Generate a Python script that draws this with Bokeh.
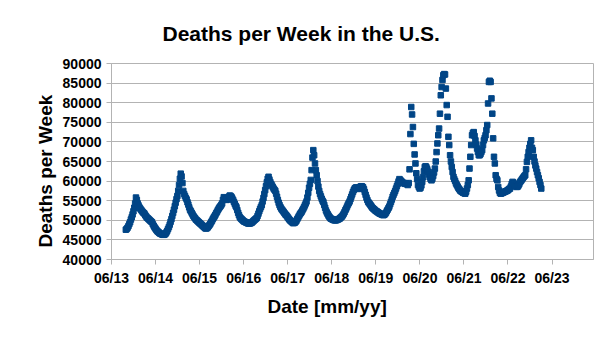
from datetime import datetime, timedelta
from bokeh.plotting import figure
from bokeh.models import (FixedTicker, DatetimeTickFormatter, Range1d, Title,
                          NumeralTickFormatter, ColumnDataSource)
from bokeh.embed import file_html
from bokeh.resources import INLINE

# ---- data ----
first_week = datetime(2013, 9, 28)
deaths = [
    47600, 47800, 48100, 48500, 49000, 49500, 50200, 50800, 51500, 52300,
    53200, 54300, 55800, 55200, 54300, 53800, 53300, 53000, 52700, 52400,
    52100, 51900, 51700, 51300, 51000, 50700, 50500, 50300, 50100, 49900,
    49700, 49500, 49000, 48600, 48200, 47900, 47600, 47300, 47100, 46900,
    46700, 46600, 46500, 46400, 46300, 46300, 46400, 46600, 46900, 47300,
    47800, 48300, 48900, 49600, 50300, 51100, 51900, 52700, 53600, 54500,
    55400, 56200, 57500, 59000, 60600, 61900, 61200, 59500, 57500, 56700,
    56200, 55700, 55300, 54600, 54000, 53300, 52700, 52300, 51900, 51500,
    51100, 50800, 50500, 50200, 50000, 49800, 49600, 49400, 49200, 49000,
    48800, 48600, 48400, 48200, 48000, 47900, 48000, 48200, 48500, 48800,
    49100, 49500, 49900, 50300, 50700, 51000, 51400, 51800, 52200, 52600,
    53000, 53300, 53600, 53900, 54300, 55200, 55900, 55700, 55400, 55200,
    55300, 55600, 56000, 56300, 56200, 56000, 55600, 55200, 54700, 54200,
    53700, 53300, 52600, 51900, 51300, 50800, 50500, 50300, 50100, 49900,
    49700, 49600, 49500, 49400, 49300, 49200, 49200, 49200, 49300, 49400,
    49600, 49800, 50000, 50200, 50400, 50600, 51100, 51700, 52300, 52900,
    53400, 53900, 54800, 55700, 56700, 57700, 58700, 59700, 60600, 61100,
    60400, 59800, 59300, 58900, 58500, 58100, 57800, 57500, 56800, 56000,
    55200, 54500, 53900, 53400, 53000, 52700, 52400, 52100, 51800, 51500,
    51300, 51000, 50700, 50400, 50100, 49900, 49700, 49500, 49300, 49300,
    49400, 49600, 49900, 50300, 50700, 51100, 51500, 51800, 52100, 52500,
    52900, 53300, 53800, 54300, 54800, 55800, 57000, 58300, 59300, 60300,
    62800, 66000, 67900, 66600, 64500, 62800, 61500, 60000, 58600, 57500,
    56700, 56100, 55500, 55000, 54600, 53900, 53200, 52500, 52000, 51600,
    51200, 50900, 50600, 50400, 50300, 50200, 50100, 50000, 50000, 50000,
    50100, 50200, 50300, 50400, 50600, 50800, 51000, 51300, 51700, 52100,
    52600, 53000, 53500, 54000, 54400, 54800, 55400, 56000, 56600, 57200,
    57700, 58100, 58300, 58400, 58200, 58000, 58200, 58400, 58600, 58700,
    58600, 58400, 57900, 57200, 56500, 55800, 55200, 54700, 54400, 54100,
    53800, 53500, 53200, 53000, 52800, 52600, 52400, 52300, 52100, 52000,
    51800, 51700, 51600, 51500, 51400, 51300, 51400, 51600, 51900, 52300,
    52700, 53100, 53500, 54100, 54700, 55300, 56000, 56500, 57000, 57500,
    58100, 58700, 59300, 59900, 60500, 60300, 60000, 59800, 59600, 59500,
    59400, 59300, 59400, 59200, 59000, 59500, 63000, 72000, 78900, 77000,
    73800, 69500, 66800, 64500, 62000, 60500, 59000, 58500, 58100, 58300,
    58900, 59800, 61000, 62500, 63600, 63800, 63500, 63000, 62400, 61700,
    61000, 60500, 60200, 60600, 61300, 62200, 63200, 65000, 67400, 69600,
    71700, 73400, 77200, 81900, 84000, 85800, 87000, 87300, 87200, 83600,
    79400, 76400, 71300, 69200, 66600, 65000, 63600, 62300, 61100, 60500,
    60000, 59400, 59000, 58600, 58200, 57900, 57600, 57400, 57300, 57100,
    57000, 56900, 56800, 57300, 58100, 59000, 60200, 63200, 66200, 69200,
    71700, 72300, 72500, 71500, 70400, 69300, 68300, 67400, 66600, 66600,
    66900, 67400, 67900, 69200, 70400, 71000, 71700, 73000, 74300, 79800,
    85300, 85600, 85300, 81100, 77200, 70900, 66200, 64500, 61500, 60600,
    60200, 58500, 57600, 57000, 56800, 56900, 57000, 57100, 57200, 57300,
    57400, 57500, 57600, 57800, 58000, 58100, 58600, 59300, 59800, 59600,
    59200, 58900, 58700, 58500, 58600, 58900, 59300, 59800, 60100, 60400,
    60700, 61000, 61300, 61500, 63000, 64900, 66200, 67400, 68500, 69500,
    70400, 68500, 67900, 66200, 65000, 64000, 63200, 62300, 61500, 60700,
    59800, 59000, 58100,
]
tick_labels_years = list(range(2013, 2024))
y_ticks = list(range(40000, 90001, 5000))

dates = [first_week + timedelta(days=7 * i) for i in range(len(deaths))]


def ms(d):
    return (d - datetime(1970, 1, 1)).total_seconds() * 1000.0


x_start = datetime(2013, 6, 1)
x_end = x_start + timedelta(days=3996)

FONT = "Liberation Sans"
GRAY = "#b3b3b3"

p = figure(width=605, height=340, x_axis_type="datetime",
           output_backend="svg", toolbar_location=None,
           x_range=Range1d(ms(x_start), ms(x_end)),
           y_range=Range1d(40000, 90000),
           min_border_left=111, min_border_right=12,
           min_border_top=63, min_border_bottom=81)

p.title.text = "Deaths per Week in the U.S."
p.title.align = "left"
p.title.offset = 51
p.title.standoff = 37
p.title.text_font = FONT
p.title.text_font_size = "21px"
p.title.text_font_style = "bold"
p.title.text_color = "black"

p.add_layout(Title(text="Date [mm/yy]", align="left", offset=156,
                   standoff=10, text_font=FONT, text_font_size="19px",
                   text_font_style="bold", text_color="black"), "below")
p.add_layout(Title(text="Deaths per Week", align="left", offset=12,
                   standoff=8, text_font=FONT, text_font_size="19px",
                   text_font_style="bold", text_color="black"), "left")

src = ColumnDataSource(dict(date=dates, deaths=deaths))
p.scatter("date", "deaths", source=src, marker="square", size=5.5,
          fill_color="#004586", line_color="#004586", line_width=1)

p.xaxis.ticker = FixedTicker(ticks=[ms(datetime(y, 6, 1)) for y in tick_labels_years],
                             minor_ticks=[])
p.xaxis.formatter = DatetimeTickFormatter(years="%m/%y", months="%m/%y",
                                          days="%m/%y", hours="%m/%y",
                                          minutes="%m/%y", seconds="%m/%y")
p.yaxis.ticker = FixedTicker(ticks=y_ticks, minor_ticks=[])
p.yaxis.formatter = NumeralTickFormatter(format="0")

for ax in (p.xaxis, p.yaxis):
    ax.axis_line_color = GRAY
    ax.major_tick_line_color = GRAY
    ax.minor_tick_line_color = None
    ax.major_tick_out = 5
    ax.major_tick_in = 0
    ax.major_label_text_font = FONT
    ax.major_label_text_font_size = "14px"
    ax.major_label_text_font_style = "bold"
    ax.major_label_text_color = "black"
    ax.major_label_standoff = 5

p.xgrid.grid_line_color = None
p.ygrid.grid_line_color = GRAY
p.outline_line_color = GRAY
p.background_fill_color = "white"
p.border_fill_color = "white"

open("out.html", "w").write(file_html(p, INLINE))
